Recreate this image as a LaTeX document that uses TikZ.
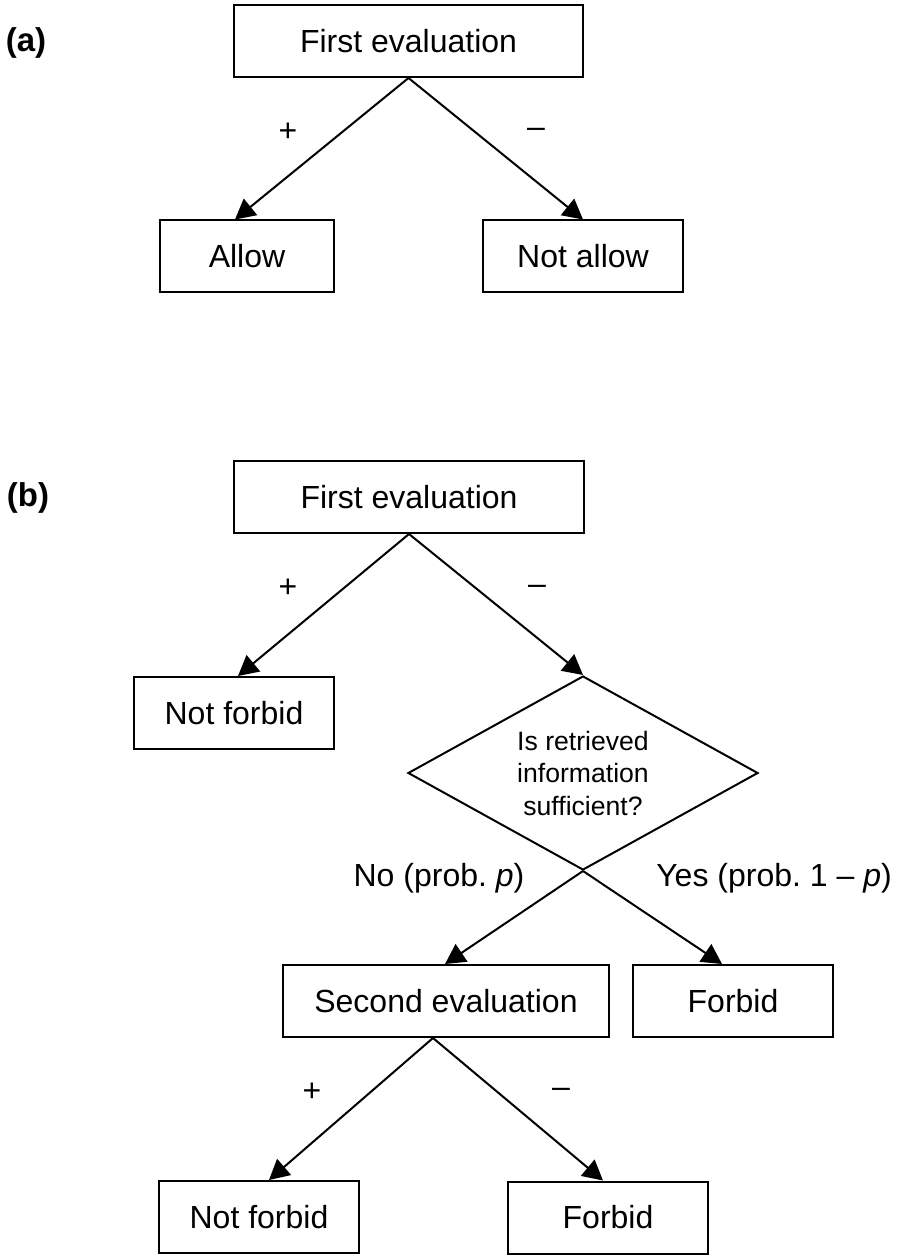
\documentclass[tikz,border=0pt]{standalone}
\usepackage{fontspec}
\setmainfont{Liberation Sans}
\usetikzlibrary{shapes.geometric,arrows.meta,calc}
\frenchspacing
\begin{document}
\begin{tikzpicture}[x=0.5pt,y=-0.5pt,
  box/.style={draw,line width=1pt,rectangle,inner sep=0pt,minimum height=36pt,font=\fontsize{16}{19}\selectfont},
  decision/.style={draw,line width=1pt,diamond,aspect=1.8,inner sep=0pt,minimum width=175pt,minimum height=97pt,align=center,font=\fontsize{13.3}{16.25}\selectfont},
  arr/.style={line width=1pt,-{Triangle[length=10pt,width=10.5pt]}},
  sign/.style={inner sep=0pt,font=\fontsize{16}{19}\selectfont},
  lbl/.style={inner sep=0pt,font=\fontsize{16}{19}\selectfont},
  panel/.style={inner sep=0pt,font=\bfseries\fontsize{16.5}{20}\selectfont}]
\useasboundingbox (0,0) rectangle (896,1256);

% ---- panel (a)
\node[panel] (pa) at (26,43) {(a)};
\node[box,minimum width=174.5pt] (fe1) at (408.5,41) {First evaluation};
\node[box,minimum width=87pt] (allow) at (247,256.5) {Allow};
\node[box,minimum width=100pt] (notallow) at (583,256.5) {Not allow};
\draw[arr] (fe1.south) -- ($(allow.north)+(-12,0)$);
\draw[arr] (fe1.south) -- (notallow.north);
\node[sign] (plusA) at (288,132) {+};
\node[sign] (minusA) at (536,133) {–};

% ---- panel (b)
\node[panel] (pb) at (28,498) {(b)};
\node[box,minimum width=175pt] (fe2) at (409,497) {First evaluation};
\node[box,minimum width=100pt] (nf1) at (234,713) {Not forbid};
\node[decision] (dia) at (583,773) {Is retrieved\\information\\sufficient?};
\node[box,minimum width=163pt] (second) at (446,1001) {Second evaluation};
\node[box,minimum width=100pt] (forbid1) at (733,1001) {Forbid};
\node[box,minimum width=100pt] (nf2) at (259,1217) {Not forbid};
\node[box,minimum width=100pt] (forbid2) at (608,1217.5) {Forbid};

\draw[arr] (fe2.south) -- ($(nf1.north)+(4,0)$);
\draw[arr] (fe2.south) -- (dia.north);
\draw[arr] (dia.south) -- ($(second.north)+(-1,0)$);
\draw[arr] (dia.south) -- ($(forbid1.north)+(-11,0)$);
\coordinate (sb) at ($(second.south)+(-13,0)$);
\draw[arr] (sb) -- ($(nf2.north)+(10,0)$);
\draw[arr] (sb) -- ($(forbid2.north)+(-5,0)$);

\node[sign] (plusB) at (288,588) {+};
\node[sign] (minusB) at (537,590) {–};
\node[lbl] (no) at (439,878) {No (prob. \textit{p})};
\node[lbl] (yes) at (774,878) {Yes (prob. 1 – \textit{p})};
\node[sign] (plusC) at (312,1092) {+};
\node[sign] (minusC) at (561,1093) {–};
\end{tikzpicture}
\end{document}
